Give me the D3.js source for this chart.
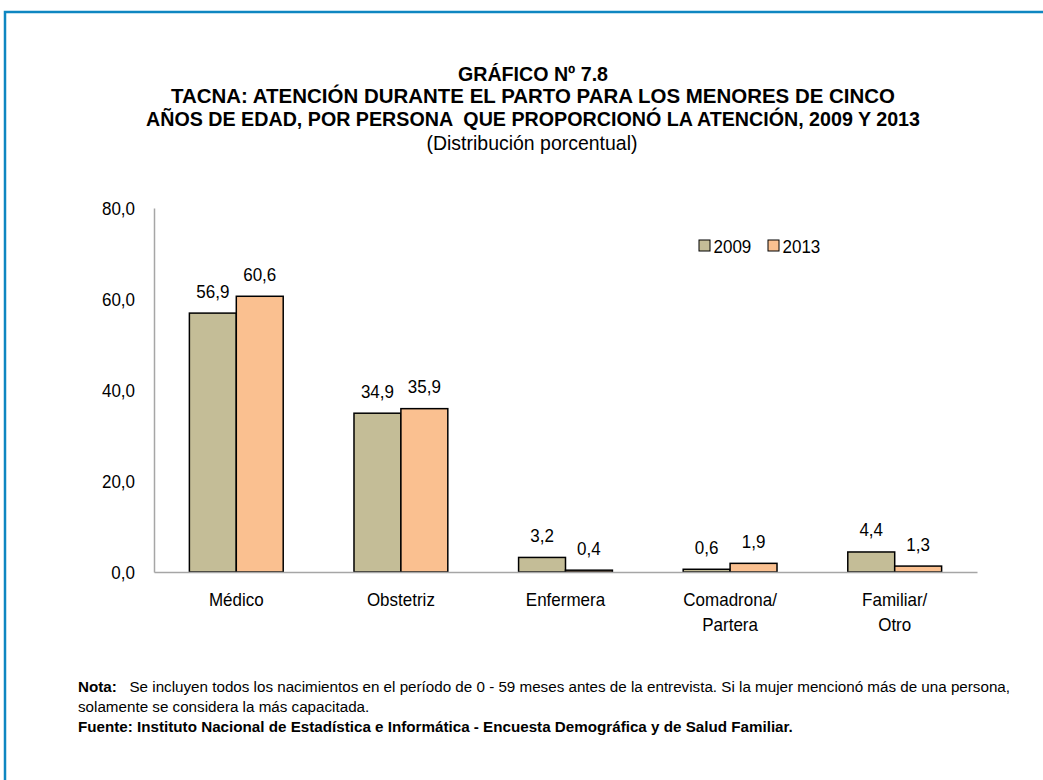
<!DOCTYPE html>
<html>
<head>
<meta charset="utf-8">
<script src="https://cdn.jsdelivr.net/npm/d3@7"></script>
<style>
  html, body { margin: 0; padding: 0; background: #fff; }
  svg { display: block; }
  text { font-family: "Liberation Sans", Arial, sans-serif; fill: #000; }
</style>
</head>
<body>
<svg id="chart" width="1043" height="780"></svg>
<script>
const categories = [["Médico"], ["Obstetriz"], ["Enfermera"], ["Comadrona/", "Partera"], ["Familiar/", "Otro"]];
const seriesNames = ["2009", "2013"];
const values2009 = [56.9, 34.9, 3.2, 0.6, 4.4];
const values2013 = [60.6, 35.9, 0.4, 1.9, 1.3];
const yTicks = [0, 20, 40, 60, 80];
const colors = ["#c4bd97", "#fac090"];
const titleLines = [
  "GRÁFICO Nº 7.8",
  "TACNA: ATENCIÓN DURANTE EL PARTO PARA LOS MENORES DE CINCO",
  "AÑOS DE EDAD, POR PERSONA  QUE PROPORCIONÓ LA ATENCIÓN, 2009 Y 2013"
];
const subtitle = "(Distribución porcentual)";
const noteLabel = "Nota:";
const noteText = "   Se incluyen todos los nacimientos en el período de 0 - 59 meses antes de la entrevista. Si la mujer mencionó más de una persona,";
const noteText2 = "solamente se considera la más capacitada.";
const sourceText = "Fuente: Instituto Nacional de Estadística e Informática - Encuesta Demográfica y de Salud Familiar.";

(function () {
const svg = d3.select("#chart");
const fmt = v => d3.format(".1f")(v).replace(".", ",");
// narrow-font emulation: compress glyphs horizontally
function squeeze(sel, ratio) {
  sel.each(function () {
    const w = this.getComputedTextLength();
    this.setAttribute("textLength", w * ratio);
    this.setAttribute("lengthAdjust", "spacingAndGlyphs");
  });
}
function fitTo(sel, width) {
  sel.attr("textLength", width).attr("lengthAdjust", "spacingAndGlyphs");
}

// frame
svg.append("path")
  .attr("d", "M5,780 L5,12 L1043,12")
  .attr("fill", "none").attr("stroke", "#0e86c1").attr("stroke-width", 2.5);

// titles
const tg = svg.append("g").attr("text-anchor", "middle");
const titleWidths = [150, 724, 774];
titleLines.forEach((t, i) => {
  const el = tg.append("text").attr("x", 533).attr("y", 81 + i * 22.3)
    .attr("font-size", 21).attr("font-weight", "bold").style("white-space", "pre").text(t);
  fitTo(el, titleWidths[i]);
});
fitTo(tg.append("text").attr("x", 532).attr("y", 150).attr("font-size", 20.5).text(subtitle), 211);

const pLeft = 154, pRight = 977, pTop = 208, pBottom = 572;
const catKeys = categories.map(c => c.join(" "));
const x0 = d3.scaleBand().domain(catKeys).range([pLeft, pRight]).paddingInner(0.43).paddingOuter(0.215);
const x1 = d3.scaleBand().domain(seriesNames).range([0, x0.bandwidth()]);
const y = d3.scaleLinear().domain([0, 80]).range([pBottom, pTop]);
const FS = 19, SQ = 17 / 19;

// y axis
const yAxis = d3.axisLeft(y).tickValues(yTicks).tickFormat(fmt).tickSize(0).tickPadding(19);
const yg = svg.append("g").attr("transform", `translate(${pLeft},0)`).call(yAxis);
yg.select(".domain").attr("stroke", "#a6a6a6").attr("stroke-width", 1.5);
yg.selectAll("text").attr("font-size", FS).attr("dy", "0.36em")
  .style("font-family", "'Liberation Sans', Arial, sans-serif");
squeeze(yg.selectAll("text"), SQ);

// bars
const data = categories.map((c, i) => ({ key: catKeys[i], vals: [values2009[i], values2013[i]] }));
const groups = svg.append("g").selectAll("g").data(data).join("g")
  .attr("transform", d => `translate(${x0(d.key)},0)`);
groups.selectAll("rect").data(d => d.vals.map((v, j) => ({ v, s: seriesNames[j], j })))
  .join("rect")
  .attr("x", d => x1(d.s)).attr("width", x1.bandwidth())
  .attr("y", d => y(d.v)).attr("height", d => y(0) - y(d.v))
  .attr("fill", d => colors[d.j]).attr("stroke", "#000").attr("stroke-width", 1.5);
const vals = groups.selectAll("text.val").data(d => d.vals.map((v, j) => ({ v, s: seriesNames[j] })))
  .join("text").attr("class", "val")
  .attr("x", d => x1(d.s) + x1.bandwidth() / 2).attr("y", d => y(d.v) - 15.5)
  .attr("text-anchor", "middle").attr("font-size", FS).text(d => fmt(d.v));
squeeze(vals, SQ);

// x axis
const xAxis = d3.axisBottom(x0).tickSize(0).tickFormat("");
const xg = svg.append("g").attr("transform", `translate(0,${pBottom})`).call(xAxis);
xg.select(".domain").attr("stroke", "#a6a6a6").attr("stroke-width", 1.5);
categories.forEach((c, i) => {
  const cx = x0(catKeys[i]) + x0.bandwidth() / 2;
  c.forEach((line, k) => {
    const t = svg.append("text").attr("x", cx).attr("y", 606 + k * 24.5)
      .attr("text-anchor", "middle").attr("font-size", FS).text(line);
    squeeze(t, SQ);
  });
});

// legend
const lg = svg.append("g").attr("transform", "translate(699,240)");
seriesNames.forEach((s, i) => {
  const g = lg.append("g").attr("transform", `translate(${i * 69},0)`);
  g.append("rect").attr("width", 11).attr("height", 11).attr("fill", colors[i]).attr("stroke", "#000").attr("stroke-width", 1);
  squeeze(g.append("text").attr("x", 14.5).attr("y", 12.5).attr("font-size", FS).text(s), SQ);
});

// notes
const ng = svg.append("g").attr("font-size", 15.2);
const n1 = ng.append("text").attr("x", 78).attr("y", 692).style("white-space", "pre");
n1.append("tspan").attr("font-weight", "bold").text(noteLabel);
n1.append("tspan").text(noteText);
ng.append("text").attr("x", 78).attr("y", 712).text(noteText2);
ng.append("text").attr("x", 78).attr("y", 732).attr("font-weight", "bold").text(sourceText);
})();
</script>
</body>
</html>
